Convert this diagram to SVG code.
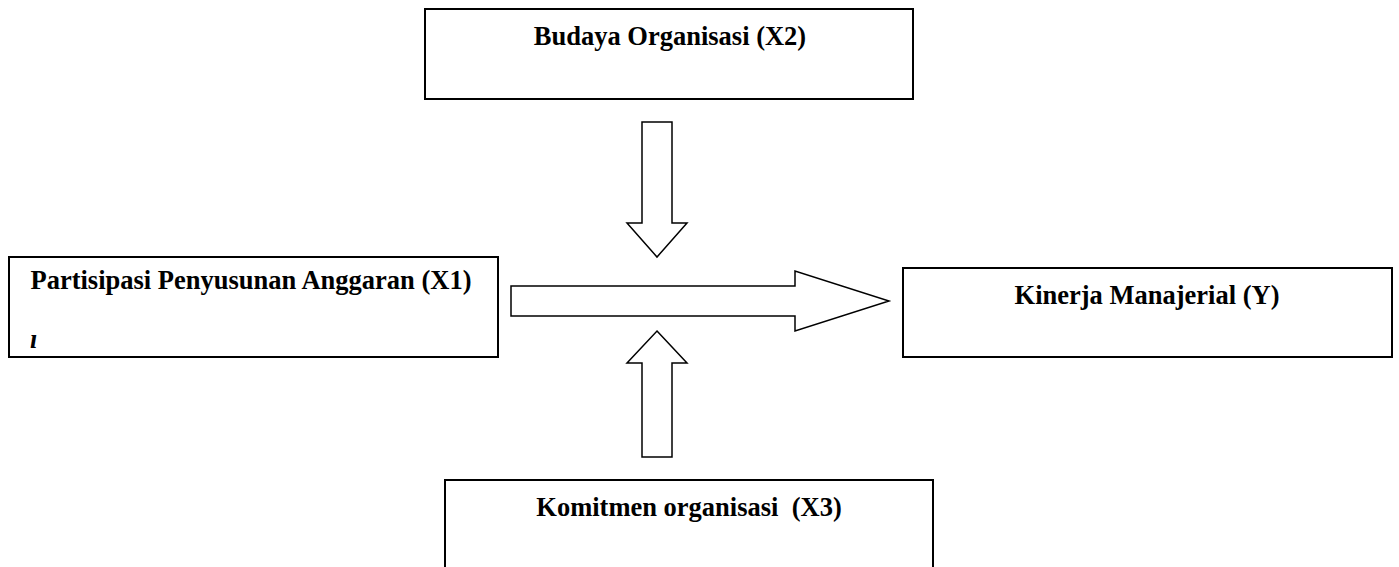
<svg xmlns="http://www.w3.org/2000/svg" width="1399" height="567" viewBox="0 0 1399 567">
<style>
.box{fill:#fff;stroke:#000;stroke-width:2}
.arr{fill:#fff;stroke:#000;stroke-width:1.5;stroke-linejoin:miter}
.lbl{font-family:"Liberation Serif","Times New Roman",serif;font-weight:bold;font-size:26.5px;fill:#000}
</style>
<rect width="1399" height="567" fill="#fff"/>
<g id="connectors">
<polygon class="arr" points="642,122 672,122 672,223 687,223 657,257 627,223 642,223"/>
<polygon class="arr" points="511,286 795,286 795,271 889,301 795,331 795,316 511,316"/>
<polygon class="arr" points="657,331 687,363 672,363 672,457 642,457 642,363 627,363"/>
</g>
<g id="node-x2">
<rect class="box" x="425" y="9" width="488" height="90"/>
<text class="lbl" x="670" y="45" text-anchor="middle">Budaya Organisasi (X2)</text>
</g>
<g id="node-x1">
<rect class="box" x="9" y="257" width="489" height="100"/>
<text class="lbl" x="251" y="289" text-anchor="middle">Partisipasi Penyusunan Anggaran (X1)</text>
<text class="lbl" x="30" y="348" font-style="italic">ı</text>
</g>
<g id="node-y">
<rect class="box" x="903" y="268" width="489" height="89"/>
<text class="lbl" x="1147" y="304" text-anchor="middle">Kinerja Manajerial (Y)</text>
</g>
<g id="node-x3">
<rect class="box" x="445" y="480" width="488" height="100"/>
<text class="lbl" x="689" y="516" text-anchor="middle" xml:space="preserve">Komitmen organisasi  (X3)</text>
</g>
</svg>
